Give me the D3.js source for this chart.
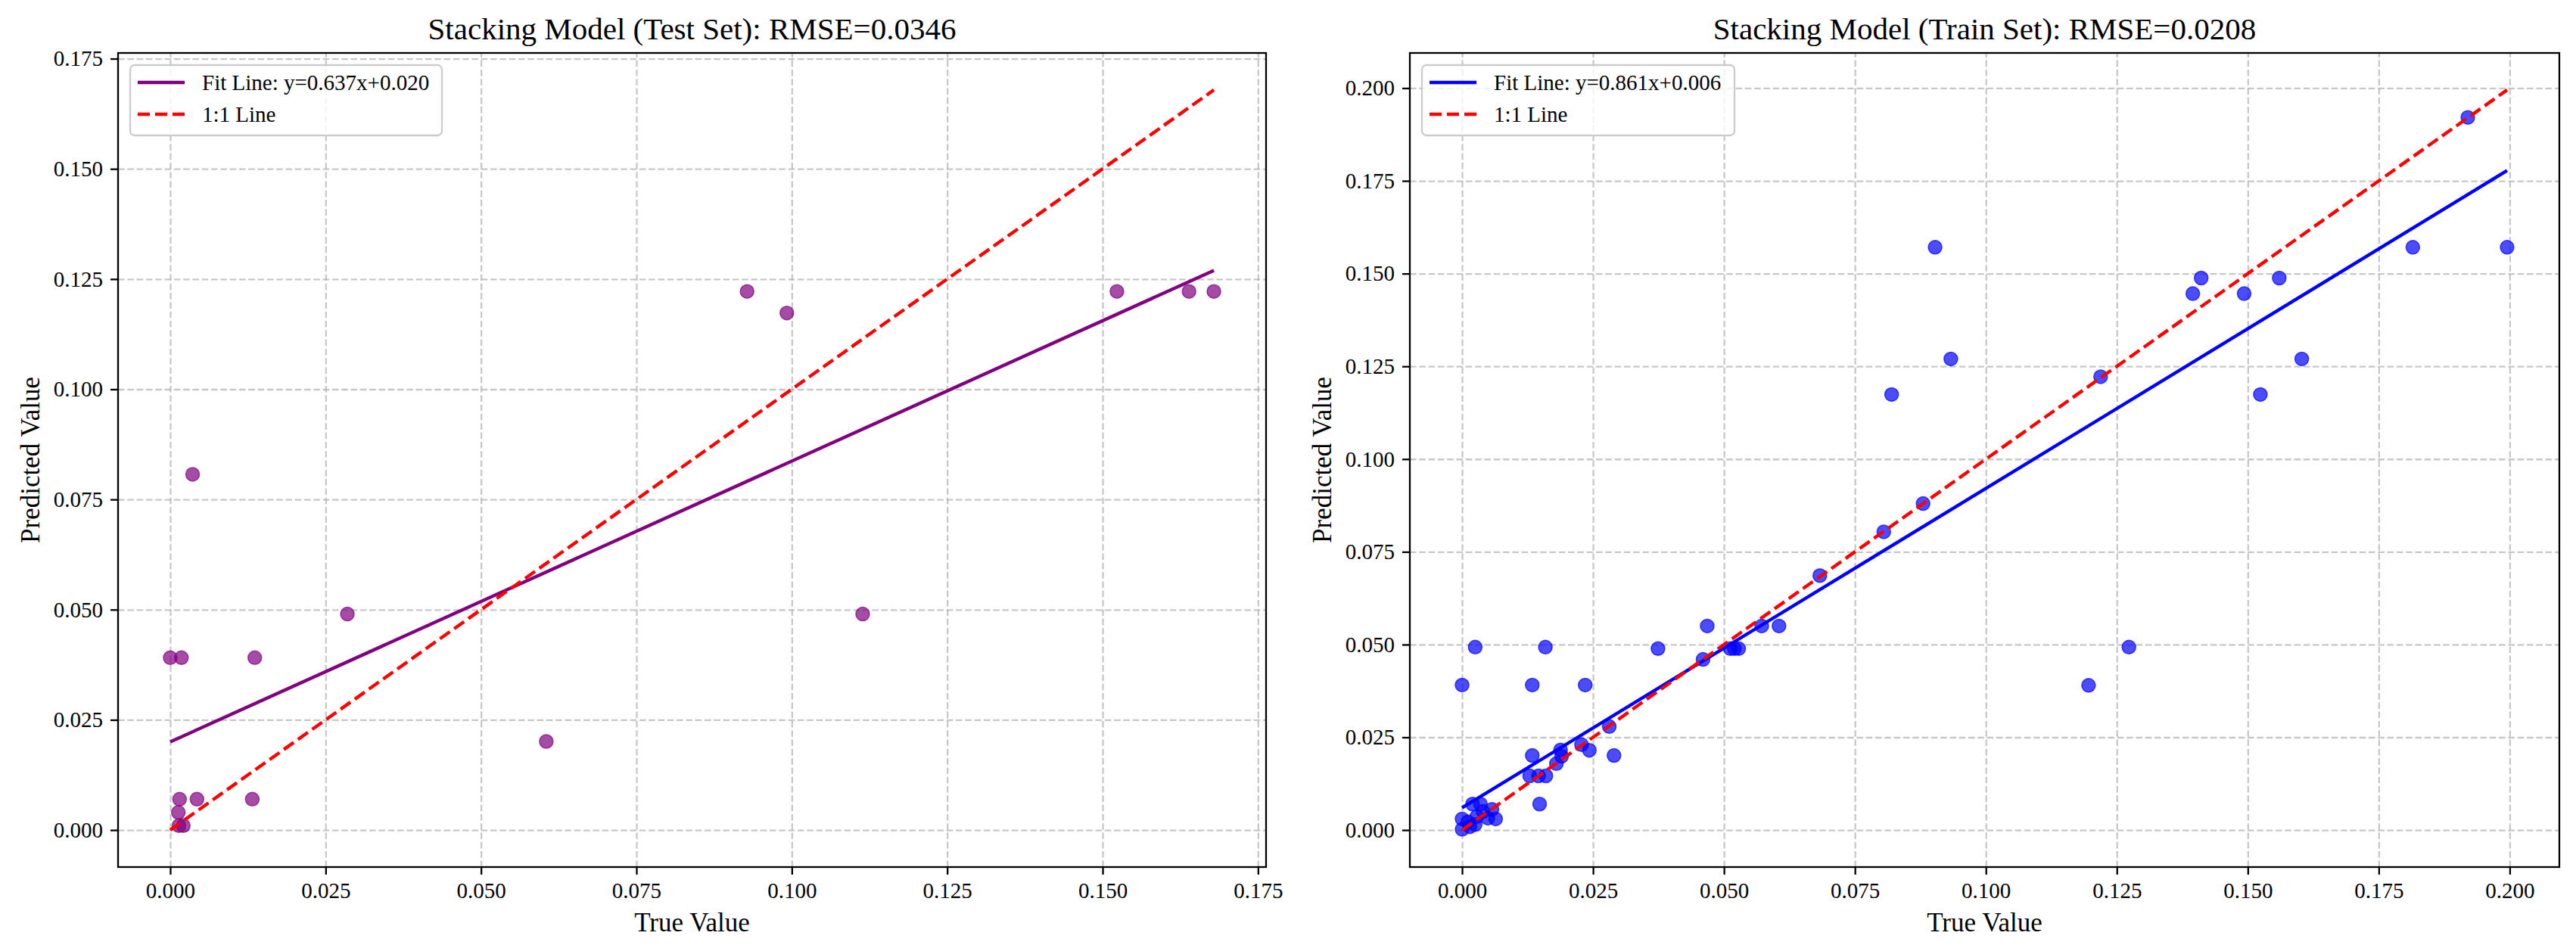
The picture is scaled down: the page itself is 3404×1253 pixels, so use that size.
<!DOCTYPE html>
<html>
<head>
<meta charset="utf-8">
<script src="https://cdn.jsdelivr.net/npm/d3@7"></script>
<style>
	body { margin: 0; background: #fff; }
	text { font-family: "Liberation Serif", "Times New Roman", serif; fill: #000; }
</style>
</head>
<body>
<div id="chart"></div>
<script>

// (data) Test set, true vs predicted
var testTrue = [0.0000, 0.0018, 0.0136, 0.0036, 0.0285, 0.0015, 0.0043, 0.0132, 0.0013, 0.0014,
	0.0021, 0.0605, 0.0928, 0.0992, 0.1114, 0.1523, 0.1639, 0.1679];
var testPred = [0.0391, 0.0391, 0.0391, 0.0807, 0.0490, 0.0070, 0.0070, 0.0070, 0.0040, 0.0010,
	0.0010, 0.0201, 0.1222, 0.1173, 0.0490, 0.1222, 0.1222, 0.1222];

// (data) Train set, true vs predicted
var trainTrue = [0.0000, 0.0000, 0.0011, 0.0015, 0.0020, 0.0028, 0.0035, 0.0040, 0.0049, 0.0057,
	0.0064, 0.0025, 0.0000, 0.0134, 0.0235, 0.1196, 0.0025, 0.0159, 0.0374, 0.1273,
	0.0512, 0.0520, 0.0528, 0.0460, 0.0468, 0.0572, 0.0605, 0.0683, 0.0805, 0.0880,
	0.0148, 0.0129, 0.0146, 0.0160, 0.0134, 0.0188, 0.0190, 0.0180, 0.0228, 0.0243,
	0.0290, 0.0281, 0.0820, 0.0903, 0.0933, 0.1219, 0.1395, 0.1411, 0.1493, 0.1524,
	0.1560, 0.1603, 0.1815, 0.1920, 0.1995];
var trainPred = [0.0002, 0.0030, 0.0022, 0.0009, 0.0070, 0.0036, 0.0070, 0.0050, 0.0032, 0.0056,
	0.0030, 0.0015, 0.0391, 0.0391, 0.0391, 0.0390, 0.0493, 0.0493, 0.0489, 0.0493,
	0.0489, 0.0489, 0.0489, 0.0460, 0.0550, 0.0550, 0.0550, 0.0686, 0.0804, 0.0880,
	0.0070, 0.0146, 0.0146, 0.0146, 0.0201, 0.0216, 0.0199, 0.0179, 0.0230, 0.0215,
	0.0201, 0.0279, 0.1174, 0.1571, 0.1270, 0.1222, 0.1446, 0.1488, 0.1446, 0.1174,
	0.1488, 0.1270, 0.1571, 0.1921, 0.1571];

// (data) Fit coefficients [slope, intercept]
var testFit = [0.637, 0.020];
var trainFit = [0.861, 0.006];

// (data) Tick values
var testTicks = [0, 0.025, 0.05, 0.075, 0.1, 0.125, 0.15, 0.175];
var trainTicks = [0, 0.025, 0.05, 0.075, 0.1, 0.125, 0.15, 0.175, 0.2];

var svg = d3.select("#chart")
	.append("svg")
	.attr("width", 3404)
	.attr("height", 1253)
	.style("background", "#fff");

var fmt = d3.format(".3f");

function drawPanel(p) {

	// (scales) matplotlib style 5% margins around the data
	var lo = d3.min(p.xs), hi = d3.max(p.xs);
	var fitLo = p.fit[0] * lo + p.fit[1], fitHi = p.fit[0] * hi + p.fit[1];
	var yLo = d3.min(p.ys.concat([lo, fitLo])), yHi = d3.max(p.ys.concat([hi, fitHi]));
	var xPad = (hi - lo) * 0.05, yPad = (yHi - yLo) * 0.05;
	var x = d3.scaleLinear().domain([lo - xPad, hi + xPad]).range([p.left, p.right]);
	var y = d3.scaleLinear().domain([yLo - yPad, yHi + yPad]).range([p.bottom, p.top]);
	var w = p.right - p.left, h = p.bottom - p.top;
	var g = svg.append("g");

	// (grid) Dashed grid lines
	g.append("g")
		.attr("transform", "translate(0," + p.bottom + ")")
		.call(d3.axisBottom(x).tickValues(p.ticks).tickSize(-h).tickFormat(""))
		.call(function(s) { s.select(".domain").remove(); });
	g.append("g")
		.attr("transform", "translate(" + p.left + ",0)")
		.call(d3.axisLeft(y).tickValues(p.ticks).tickSize(-w).tickFormat(""))
		.call(function(s) { s.select(".domain").remove(); });
	g.selectAll(".tick line")
		.attr("stroke", "#b0b0b0")
		.attr("stroke-opacity", 0.7)
		.attr("stroke-width", 2.3)
		.attr("stroke-dasharray", "8.6,3.7");

	// (points) Scatter
	g.append("g")
		.selectAll("circle")
		.data(p.xs)
		.enter()
		.append("circle")
		.attr("cx", function(d) { return x(d); })
		.attr("cy", function(d, i) { return y(p.ys[i]); })
		.attr("r", 9)
		.attr("fill", p.color)
		.attr("fill-opacity", 0.7)
		.attr("stroke", p.color)
		.attr("stroke-opacity", 0.7)
		.attr("stroke-width", 1.5);

	// (lines) Fit line and 1:1 line
	g.append("line")
		.attr("x1", x(lo)).attr("y1", y(fitLo))
		.attr("x2", x(hi)).attr("y2", y(fitHi))
		.attr("stroke", p.lineColor)
		.attr("stroke-width", 4.4);
	g.append("line")
		.attr("x1", x(lo)).attr("y1", y(lo))
		.attr("x2", x(hi)).attr("y2", y(hi))
		.attr("stroke", "#ff0000")
		.attr("stroke-width", 4.4)
		.attr("stroke-dasharray", "16,7");

	// (axes) Ticks and labels
	var ax = g.append("g")
		.attr("transform", "translate(0," + p.bottom + ")")
		.call(d3.axisBottom(x).tickValues(p.ticks).tickSize(10).tickPadding(10).tickFormat(fmt));
	var ay = g.append("g")
		.attr("transform", "translate(" + p.left + ",0)")
		.call(d3.axisLeft(y).tickValues(p.ticks).tickSize(10).tickPadding(10).tickFormat(fmt));
	[ax, ay].forEach(function(a) {
		a.select(".domain").remove();
		a.selectAll(".tick line").attr("stroke", "#000").attr("stroke-width", 2.3);
		a.selectAll(".tick text").attr("font-size", 29).attr("font-family", "Liberation Serif").attr("fill", "#000");
	});

	// (frame) Axes box
	g.append("rect")
		.attr("x", p.left).attr("y", p.top)
		.attr("width", w).attr("height", h)
		.attr("fill", "none")
		.attr("stroke", "#000")
		.attr("stroke-width", 2.3);

	// (titles) Title and axis labels
	g.append("text")
		.attr("x", p.left + w / 2).attr("y", 52)
		.attr("text-anchor", "middle")
		.attr("font-size", 41)
		.text(p.title);
	g.append("text")
		.attr("x", p.left + w / 2).attr("y", 1231)
		.attr("text-anchor", "middle")
		.attr("font-size", 35)
		.text("True Value");
	g.append("text")
		.attr("transform", "translate(" + (p.left - 104) + "," + (p.top + h / 2) + ") rotate(-90)")
		.attr("text-anchor", "middle")
		.attr("font-size", 35)
		.text("Predicted Value");

	// (legend) Upper left legend
	var lg = g.append("g").attr("transform", "translate(" + (p.left + 16) + "," + (p.top + 16) + ")");
	lg.append("rect")
		.attr("width", p.legendW).attr("height", 93)
		.attr("rx", 6)
		.attr("fill", "#fff")
		.attr("fill-opacity", 0.8)
		.attr("stroke", "#cccccc")
		.attr("stroke-width", 2.3);
	var items = [
		{label: "Fit Line: y=" + fmt(p.fit[0]) + "x+" + fmt(p.fit[1]), color: p.lineColor, dash: null},
		{label: "1:1 Line", color: "#ff0000", dash: "16,7"}
	];
	var row = lg.selectAll(".item")
		.data(items)
		.enter()
		.append("g")
		.attr("transform", function(d, i) { return "translate(0," + (23 + i * 42) + ")"; });
	row.append("line")
		.attr("x1", 10).attr("x2", 72)
		.attr("stroke", function(d) { return d.color; })
		.attr("stroke-width", 4.4)
		.attr("stroke-dasharray", function(d) { return d.dash; });
	row.append("text")
		.attr("x", 95).attr("y", 10)
		.attr("font-size", 29)
		.text(function(d) { return d.label; });
}

drawPanel({
	xs: testTrue, ys: testPred, fit: testFit, ticks: testTicks,
	color: "#800080", lineColor: "#800080",
	title: "Stacking Model (Test Set): RMSE=0.0346",
	left: 156, right: 1673, top: 70, bottom: 1146, legendW: 412
});
drawPanel({
	xs: trainTrue, ys: trainPred, fit: trainFit, ticks: trainTicks,
	color: "#0000ff", lineColor: "#0000ff",
	title: "Stacking Model (Train Set): RMSE=0.0208",
	left: 1863, right: 3382, top: 70, bottom: 1146, legendW: 413
});

</script>
</body>
</html>
